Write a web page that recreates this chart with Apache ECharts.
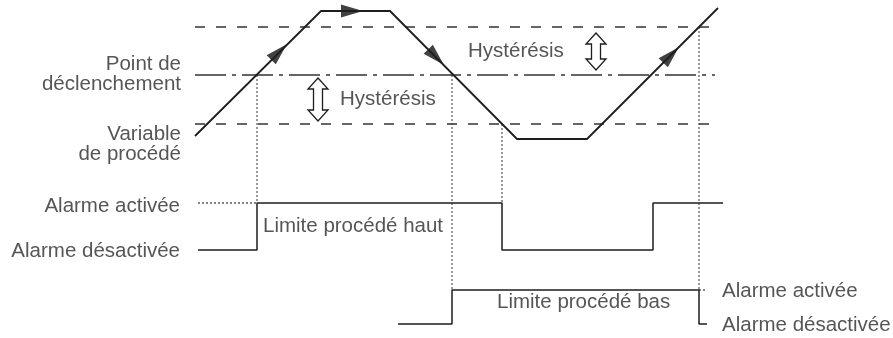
<!DOCTYPE html>
<html>
<head>
<meta charset="utf-8">
<script src="https://cdn.jsdelivr.net/npm/echarts@6/dist/echarts.min.js"></script>
<style>
html,body{margin:0;padding:0;background:#fff;}
#chart{width:893px;height:338px;}
</style>
</head>
<body>
<div id="chart"></div>
<script>
// ---- data (diagram units: x = time, y = level, y axis drawn downward) ----
const bandStartEnd = [195, 715];
const upperBandLevel = 27;
const setpointLevel = 75;
const lowerBandLevel = 124;

const pvTime  = [195, 321, 390, 517, 587, 718];
const pvLevel = [136, 11, 11, 139, 139, 8];

const arrowTime  = [279, 352, 436, 671];
const arrowLevel = [52, 11, 57, 55];
const arrowAngle = [-45, -90, -135, -45];

const guideTime   = [257, 452, 502, 699];
const guideTop    = [75, 75, 124, 27];
const guideBottom = [203, 290, 203, 290];

const highOn = 203, highOff = 250;
const highTime  = [198, 257, 502, 653, 723];
const highState = [0, 1, 0, 1, 1];
const highDottedTime = [198, 257];

const lowOn = 290, lowOff = 324;
const lowTime  = [398, 452, 699, 707];
const lowState = [0, 1, 0, 0];
const lowDottedTime = [699, 707];

const hystTime   = [318, 596];
const hystTop    = [78, 33];
const hystBottom = [121, 70];

const labelText  = ['Point de', 'déclenchement', 'Variable', 'de procédé',
                    'Alarme activée', 'Alarme désactivée',
                    'Limite procédé haut', 'Hystérésis', 'Hystérésis',
                    'Limite procédé bas', 'Alarme activée', 'Alarme désactivée'];
const labelTime  = [181, 181, 181, 181, 180, 180, 263, 340, 468, 497, 722, 722];
const labelLevel = [64, 84, 134, 154, 206, 251, 226, 99, 51, 302, 291, 325];
const labelSide  = ['left','left','left','left','left','left','right','right','right','right','right','right'];

// ---- build ----
const ink = '#1e1e1e';
const dashInk = '#333';
const font = 'Liberation Sans, Arial, Helvetica, sans-serif';

function hLine(level, dash) {
  return {
    type: 'line', silent: true, symbol: 'none', animation: false,
    data: bandStartEnd.map(t => [t, level]),
    lineStyle: {color: dashInk, width: 1.5, type: dash}
  };
}

const series = [];
series.push(hLine(upperBandLevel, [10, 11]));
series.push(hLine(lowerBandLevel, [10, 11]));
series.push(hLine(setpointLevel, [31, 6, 4, 6]));

guideTime.forEach((t, i) => {
  series.push({
    type: 'line', silent: true, symbol: 'none', animation: false,
    data: [[t, guideTop[i]], [t, guideBottom[i]]],
    lineStyle: {color: '#333', width: 1, type: [2, 2]}
  });
});

series.push({
  type: 'line', silent: true, symbol: 'none', animation: false,
  data: highDottedTime.map(t => [t, highOn]),
  lineStyle: {color: '#333', width: 1.2, type: [2, 2]}
});
series.push({
  type: 'line', silent: true, symbol: 'none', animation: false,
  data: lowDottedTime.map(t => [t, lowOn]),
  lineStyle: {color: '#333', width: 1.2, type: [2, 2]}
});

series.push({
  type: 'line', silent: true, symbol: 'none', animation: false, step: 'end',
  data: highTime.map((t, i) => [t, highState[i] ? highOn : highOff]),
  lineStyle: {color: ink, width: 1.5}
});
series.push({
  type: 'line', silent: true, symbol: 'none', animation: false, step: 'end',
  data: lowTime.map((t, i) => [t, lowState[i] ? lowOn : lowOff]),
  lineStyle: {color: ink, width: 1.5}
});

series.push({
  type: 'line', silent: true, symbol: 'none', animation: false,
  data: pvTime.map((t, i) => [t, pvLevel[i]]),
  lineStyle: {color: ink, width: 1.8}
});

series.push({
  type: 'scatter', silent: true, animation: false,
  symbol: 'triangle', symbolSize: [13, 22],
  data: arrowTime.map((t, i) => ({value: [t, arrowLevel[i]], symbolRotate: arrowAngle[i]})),
  itemStyle: {color: '#111'}
});

series.push({
  type: 'custom', silent: true, animation: false,
  data: hystTime.map((t, i) => [t, hystTop[i], hystBottom[i]]),
  renderItem: function (params, api) {
    const top = api.coord([api.value(0), api.value(1)]);
    const bot = api.coord([api.value(0), api.value(2)]);
    const cx = top[0], y0 = top[1], y1 = bot[1];
    const hw = 10, sw = 4.5, hh = 11;
    const pts = [
      [cx, y0], [cx + hw, y0 + hh], [cx + sw, y0 + hh], [cx + sw, y1 - hh],
      [cx + hw, y1 - hh], [cx, y1], [cx - hw, y1 - hh], [cx - sw, y1 - hh],
      [cx - sw, y0 + hh], [cx - hw, y0 + hh]
    ];
    return {
      type: 'polygon',
      shape: {points: pts},
      style: {fill: '#fff', stroke: ink, lineWidth: 1.3}
    };
  }
});

series.push({
  type: 'scatter', silent: true, animation: false, symbolSize: 0,
  data: labelText.map((txt, i) => ({
    value: [labelTime[i], labelLevel[i]],
    label: {show: true, formatter: txt, position: labelSide[i], distance: 0}
  })),
  label: {color: '#2a2a2a', fontSize: 20.5, fontFamily: font}
});

const chart = echarts.init(document.getElementById('chart'), null, {renderer: 'canvas'});
chart.setOption({
  animation: false,
  backgroundColor: '#fff',
  grid: {left: 0, right: 0, top: 0, bottom: 0},
  xAxis: {type: 'value', min: 0, max: 893, show: false},
  yAxis: {type: 'value', min: 0, max: 338, inverse: true, show: false},
  series: series
});
</script>
</body>
</html>
